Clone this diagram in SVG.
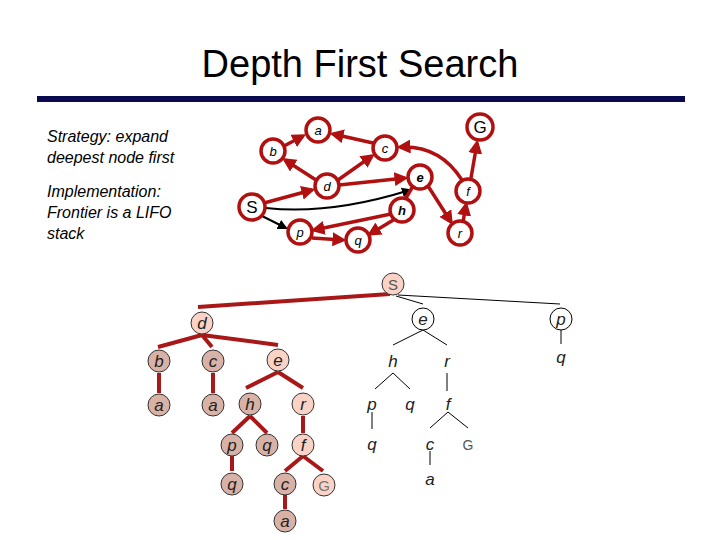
<svg xmlns="http://www.w3.org/2000/svg" width="720" height="540" viewBox="0 0 720 540">
<style>
text{font-family:"Liberation Sans",Arial,sans-serif}
.lt{font-size:16px;font-style:italic}
.gn{fill:#fff;stroke:#b01010;stroke-width:3.5}
.gt{font-size:13px;font-style:italic;text-anchor:middle}
.re{stroke:#b01010;stroke-width:3.5;fill:none}
.bk{stroke:#000;stroke-width:2;fill:none}
.tr{stroke:#a81818;stroke-width:4;fill:none}
.th{stroke:#000;stroke-width:1;fill:none}
.lo{fill:#fad3c6;stroke:#333;stroke-width:1}
.dk{fill:#d8b2a6;stroke:#333;stroke-width:1}
.tt{font-size:17px;font-style:italic;text-anchor:middle;fill:#222}
</style>
<defs>
<marker id="ar" markerWidth="4" markerHeight="4" refX="3" refY="2" orient="auto" markerUnits="strokeWidth"><path d="M0,0L4,2L0,4z" fill="#b01010"/></marker>
<marker id="ak" markerWidth="5" markerHeight="5" refX="4" refY="2.5" orient="auto" markerUnits="strokeWidth"><path d="M0,0L5,2.5L0,5z" fill="#000"/></marker>
</defs>
<text x="360" y="77" font-size="38" text-anchor="middle">Depth First Search</text>
<rect x="37" y="96" width="648" height="6" fill="#0a0a50"/>
<text class="lt" x="47" y="142">Strategy: expand</text>
<text class="lt" x="47" y="163">deepest node first</text>
<text class="lt" x="47" y="197">Implementation:</text>
<text class="lt" x="47" y="218">Frontier is a LIFO</text>
<text class="lt" x="47" y="239">stack</text>
<g id="graph-edges">
<path class="re" d="M284,146L303,136" marker-end="url(#ar)"/>
<path class="re" d="M373,143L333,134" marker-end="url(#ar)"/>
<path class="re" d="M316,180L285,160" marker-end="url(#ar)"/>
<path class="re" d="M338,180L372,156" marker-end="url(#ar)"/>
<path class="re" d="M339,185L405,178" marker-end="url(#ar)"/>
<path class="re" d="M264,203L312,190" marker-end="url(#ar)"/>
<path class="bk" d="M266,208Q330,215 410,190" marker-end="url(#ak)"/>
<path class="bk" d="M262,216L286,228" marker-end="url(#ak)"/>
<path class="re" d="M413,186L406,198"/>
<path class="re" d="M391,214L314,230" marker-end="url(#ar)"/>
<path class="re" d="M395,219L370,234" marker-end="url(#ar)"/>
<path class="re" d="M312,238L343,240" marker-end="url(#ar)"/>
<path class="re" d="M428,186L451,222" marker-end="url(#ar)"/>
<path class="re" d="M463,222L466,205" marker-end="url(#ar)"/>
<path class="re" d="M471,178L477,143" marker-end="url(#ar)"/>
<path class="re" d="M462,180Q440,145 400,147" marker-end="url(#ar)"/>
</g>
<g id="n-a"><circle class="gn" cx="318" cy="130" r="12"/><text class="gt" x="318" y="135">a</text></g>
<g id="n-b"><circle class="gn" cx="273" cy="151" r="12"/><text class="gt" x="273" y="156">b</text></g>
<g id="n-c"><circle class="gn" cx="385" cy="148" r="12"/><text class="gt" x="385" y="153">c</text></g>
<g id="n-G"><circle class="gn" cx="480" cy="127" r="13"/><text x="480" y="133" font-size="17" text-anchor="middle">G</text></g>
<g id="n-d"><circle class="gn" cx="327" cy="186" r="12"/><text class="gt" x="327" y="191">d</text></g>
<g id="n-e"><circle class="gn" cx="420" cy="177" r="12"/><text class="gt" x="420" y="182" font-weight="bold">e</text></g>
<g id="n-f"><circle class="gn" cx="468" cy="191" r="12"/><text class="gt" x="468" y="196">f</text></g>
<g id="n-S"><circle class="gn" cx="252" cy="207" r="13"/><text x="252" y="213" font-size="17" text-anchor="middle">S</text></g>
<g id="n-h"><circle class="gn" cx="402" cy="210" r="12"/><text class="gt" x="402" y="215" font-weight="bold">h</text></g>
<g id="n-p"><circle class="gn" cx="300" cy="232" r="12"/><text class="gt" x="300" y="237">p</text></g>
<g id="n-q"><circle class="gn" cx="358" cy="240" r="12"/><text class="gt" x="358" y="245">q</text></g>
<g id="n-r"><circle class="gn" cx="460" cy="233" r="12"/><text class="gt" x="460" y="238">r</text></g>

<g id="tree-edges">
<path class="tr" d="M390,294L198,307M202,335L158,347M202,335L212,347M202,335L278,345M159,373L159,393M213,373L213,393M278,372L246,388M278,372L303,388M250,416L232,433M250,416L267,433M303,416L303,433M232,456L232,471M303,456L285,471M303,456L323,471M285,494L285,509"/>
<path class="th" d="M396,296L423,304M398,295L560,304M423,330L393,345M423,330L447,345M561,330L561,344M393,373L375,389M393,373L410,389M447,373L447,391M372,412L372,429M448,412L430,428M448,412L468,428M430,451L430,465"/>
</g>
<g id="t-S"><circle class="lo" cx="393" cy="284" r="11"/><text x="393" y="290" font-size="15" text-anchor="middle" fill="#555">S</text></g>
<g id="t-d"><circle class="lo" cx="202" cy="323" r="11"/><text class="tt" x="202" y="329">d</text></g>
<g id="t-e1"><circle fill="#fff" stroke="#000" cx="423" cy="319" r="11"/><text class="tt" x="423" y="325">e</text></g>
<g id="t-p1"><circle fill="#fff" stroke="#000" cx="561" cy="319" r="11"/><text class="tt" x="561" y="325">p</text></g>
<g id="t-b"><circle class="dk" cx="159" cy="361" r="11"/><text class="tt" x="159" y="367">b</text></g>
<g id="t-c"><circle class="dk" cx="213" cy="361" r="11"/><text class="tt" x="213" y="367">c</text></g>
<g id="t-e"><circle class="lo" cx="278" cy="360" r="11"/><text class="tt" x="278" y="366">e</text></g>
<g id="t-a1"><circle class="dk" cx="159" cy="405" r="11"/><text class="tt" x="159" y="411">a</text></g>
<g id="t-a2"><circle class="dk" cx="213" cy="405" r="11"/><text class="tt" x="213" y="411">a</text></g>
<g id="t-h"><circle class="dk" cx="250" cy="404" r="11"/><text class="tt" x="250" y="410">h</text></g>
<g id="t-r"><circle class="lo" cx="303" cy="404" r="11"/><text class="tt" x="303" y="410">r</text></g>
<g id="t-p"><circle class="dk" cx="232" cy="445" r="11"/><text class="tt" x="232" y="451">p</text></g>
<g id="t-q"><circle class="dk" cx="267" cy="445" r="11"/><text class="tt" x="267" y="451">q</text></g>
<g id="t-f"><circle class="lo" cx="303" cy="445" r="11"/><text class="tt" x="303" y="451">f</text></g>
<g id="t-q2"><circle class="dk" cx="232" cy="484" r="11"/><text class="tt" x="232" y="490">q</text></g>
<g id="t-c2"><circle class="dk" cx="285" cy="484" r="11"/><text class="tt" x="285" y="490">c</text></g>
<g id="t-G"><circle class="lo" cx="324" cy="485" r="11"/><text x="324" y="491" font-size="15" text-anchor="middle" fill="#777">G</text></g>
<g id="t-a3"><circle class="dk" cx="285" cy="521" r="11"/><text class="tt" x="285" y="527">a</text></g>
<g id="t-h1"><text class="tt" x="393" y="367" fill="#000">h</text></g>
<g id="t-r1"><text class="tt" x="447" y="367" fill="#000">r</text></g>
<g id="t-q1"><text class="tt" x="561" y="363" fill="#000">q</text></g>
<g id="t-p2"><text class="tt" x="372" y="410" fill="#000">p</text></g>
<g id="t-q3"><text class="tt" x="410" y="410" fill="#000">q</text></g>
<g id="t-f1"><text class="tt" x="448" y="410" fill="#000">f</text></g>
<g id="t-q4"><text class="tt" x="372" y="450" fill="#000">q</text></g>
<g id="t-c1"><text class="tt" x="430" y="450" fill="#000">c</text></g>
<g id="t-G1"><text x="468" y="450" font-size="14" text-anchor="middle" fill="#555">G</text></g>
<g id="t-a4"><text class="tt" x="430" y="485" fill="#000">a</text></g>
</svg>
